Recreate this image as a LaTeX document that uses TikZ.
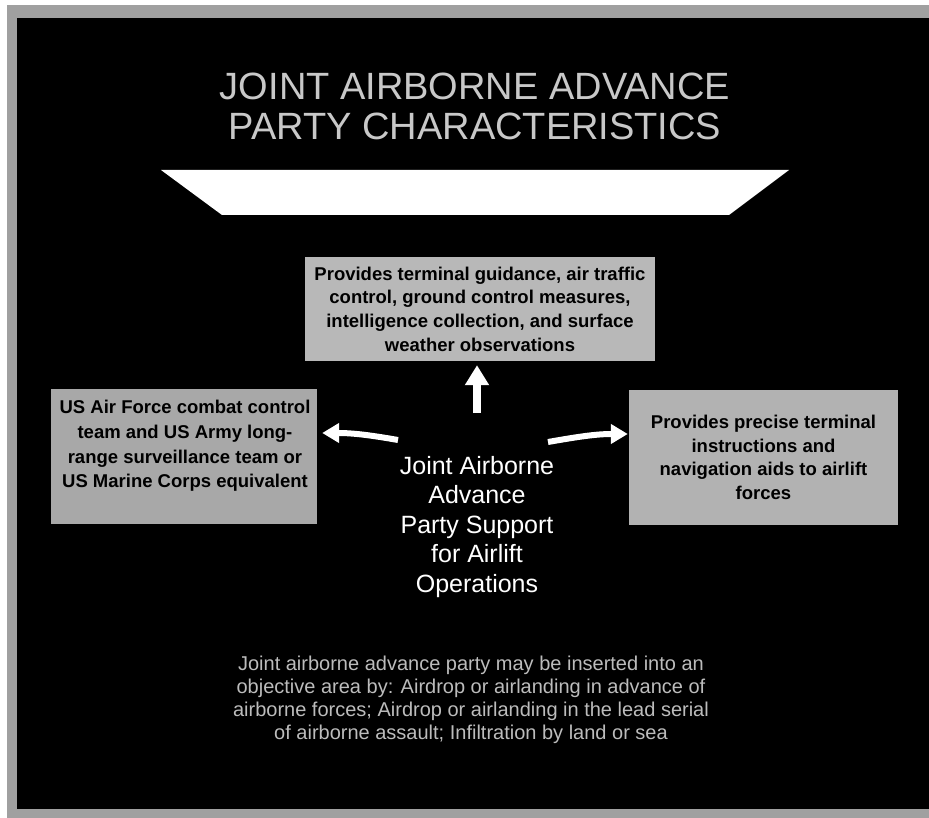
\documentclass[tikz,border=0pt]{standalone}
\usepackage{fontspec}
\setmainfont{Liberation Sans}
\usetikzlibrary{arrows.meta}
\definecolor{bandgray}{RGB}{160,160,160}
\definecolor{boxgrayA}{RGB}{184,184,184}
\definecolor{boxgrayB}{RGB}{168,168,168}
\definecolor{boxgrayC}{RGB}{178,178,178}
\definecolor{titlegray}{RGB}{200,200,200}
\definecolor{notegray}{RGB}{188,188,188}
\begin{document}
\begin{tikzpicture}[x=1pt,y=-1pt,
  infobox/.style={inner sep=0pt, draw=none},
  boxtext/.style={align=center, text=black, inner sep=0pt,
    font=\fontsize{18.5}{23.7}\selectfont\bfseries},
  flowarrow/.style={draw=white, line width=6pt, -{Triangle[width=19pt,length=17pt]}},
  uparrow/.style={draw=white, line width=7.5pt, -{Triangle[width=23pt,length=20pt]}},
]
\useasboundingbox (0,0) rectangle (929,818);
\fill[white] (0,0) rectangle (929,818);
\fill[bandgray] (7,5) rectangle (940,818);
\fill[black] (17,18) rectangle (940,809);

% title
\node[text=titlegray, align=center, inner sep=0pt,
  font=\fontsize{38}{40}\selectfont] (title) at (475,106.5)
  {JOINT AIRBORNE ADVANCE\\PARTY CHARACTERISTICS};

% banner
\fill[white] (161,170) -- (789,170) -- (729,215) -- (222,215) -- cycle;

% boxes
\node[infobox, boxtext, fill=boxgrayA, minimum width=350pt, minimum height=104pt] (tbox) at (480,309)
  {Provides terminal guidance, air traffic\\control, ground control measures,\\intelligence collection, and surface\\weather observations};
\node[infobox, fill=boxgrayB, minimum width=266pt, minimum height=135pt] (lbox) at (184,456.5) {};
\node[boxtext, font=\fontsize{18.5}{24.7}\selectfont\bfseries] (ltext) at (185,446)
  {US Air Force combat control\\team and US Army long-\\range surveillance team or\\US Marine Corps equivalent};
\node[infobox, boxtext, fill=boxgrayC, minimum width=269pt, minimum height=135pt] (rbox) at (763.5,457.5)
  {Provides precise terminal\\instructions and\\navigation aids to airlift\\forces};

% centre text
\node[text=white, align=center, inner sep=0pt,
  font=\fontsize{25}{29.5}\selectfont] (ctext) at (477,527)
  {Joint Airborne\\Advance\\Party Support\\for Airlift\\Operations};

% arrows
\coordinate (upfoot) at (477,413);
\coordinate (lfoot) at (398,440);
\coordinate (rfoot) at (548,442);
\draw[uparrow, shorten >=4pt] (upfoot) -- (upfoot |- tbox.south);
\draw[flowarrow] (lfoot) to[out=170,in=0] ([xshift=5pt,yshift=23.5pt]lbox.east);
\draw[flowarrow] (rfoot) to[out=10,in=180] ([xshift=-1pt,yshift=23.5pt]rbox.west);

% note
\node[text=notegray, align=center, inner sep=0pt,
  font=\fontsize{20}{23}\selectfont] (note) at (471,700)
  {Joint airborne advance party may be inserted into an\\objective area by: Airdrop or airlanding in advance of\\airborne forces; Airdrop or airlanding in the lead serial\\of airborne assault; Infiltration by land or sea};
\end{tikzpicture}
\end{document}
